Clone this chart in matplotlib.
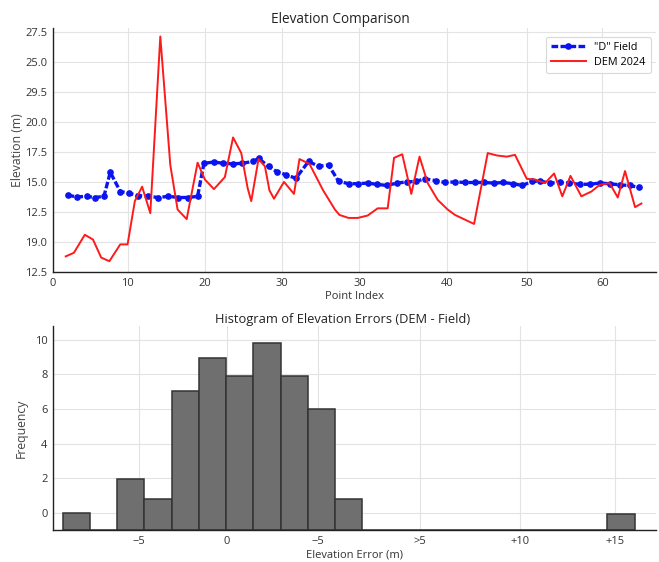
import matplotlib
matplotlib.use("Agg")
import matplotlib.pyplot as plt
import numpy as np

plt.rcParams['font.family'] = ['Open Sans', 'DejaVu Sans']

# --- Elevation profile: field survey vs DEM (point index, elevation in m) ---
field_idx = [1.6, 2.6, 3.7, 4.6, 5.6, 6.3, 7.4, 8.4, 9.4, 10.5,
             11.6, 12.7, 13.8, 14.9, 15.9, 16.6, 17.7, 18.7, 19.8, 20.8,
             22.0, 22.6, 23.7, 24.6, 25.6, 26.7, 28.1, 29.2, 30.3, 31.4,
             32.5, 33.5, 34.6, 35.6, 36.7, 37.8, 38.9, 39.9, 40.9, 42.1,
             43.1, 44.2, 45.3, 46.4, 47.4, 48.5, 49.5, 50.6, 51.6, 52.7,
             53.6, 54.7, 55.7, 56.7, 57.9, 59.0, 60.1, 61.2, 62.3, 63.4,
             64.4]
field_elev = [13.9, 13.75, 13.8, 13.7, 13.8, 15.8, 14.2, 14.05, 13.85, 13.8,
              13.7, 13.8, 13.7, 13.7, 13.8, 16.55, 16.65, 16.55, 16.5, 16.55,
              16.7, 16.95, 16.3, 15.85, 15.6, 15.3, 16.7, 16.3, 16.4, 15.05,
              14.85, 14.85, 14.9, 14.8, 14.7, 14.9, 15.0, 15.05, 15.25, 15.1,
              14.95, 15.0, 14.95, 14.95, 14.95, 14.9, 14.95, 14.85, 14.7, 15.05,
              15.05, 14.9, 14.95, 14.9, 14.8, 14.8, 14.9, 14.85, 14.75, 14.7,
              14.55]

dem_idx = [1.4, 2.3, 3.5, 4.4, 5.3, 6.2, 7.4, 8.2, 9.0, 9.8,
           10.7, 11.8, 12.9, 13.7, 14.7, 15.9, 16.7, 17.7, 18.9, 19.8,
           20.7, 21.4, 21.8, 22.6, 23.3, 23.8, 24.3, 25.4, 26.5, 27.1,
           28.2, 29.7, 31.0, 31.5, 32.5, 33.5, 34.6, 35.7, 36.8, 37.5,
           38.4, 39.4, 40.3, 41.2, 42.3, 43.4, 44.2, 46.3, 47.8, 48.8,
           49.9, 50.8, 52.1, 53.0, 54.1, 55.1, 56.0, 56.9, 58.1, 59.2,
           60.1, 61.2, 62.1, 62.9, 64.0, 64.7]
dem_elev = [8.8, 9.1, 10.6, 10.2, 8.7, 8.4, 9.8, 9.8, 13.4, 14.6,
            12.4, 27.1, 16.4, 12.7, 11.9, 16.6, 15.2, 14.4, 15.4, 18.7,
            17.4, 14.5, 13.4, 16.9, 16.3, 14.3, 13.6, 15.0, 14.0, 16.9,
            16.5, 14.3, 12.7, 12.25, 12.0, 12.0, 12.2, 12.8, 12.8, 17.0,
            17.3, 14.0, 17.1, 14.9, 13.5, 12.7, 12.25, 11.5, 17.4, 17.2,
            17.1, 17.25, 15.25, 15.2, 14.9, 15.7, 13.8, 15.5, 13.8, 14.2,
            14.75, 14.9, 13.7, 15.9, 12.9, 13.2]

profile_xticks = [0, 8.2, 16.7, 25.2, 33.7, 43.3, 52.1, 60.4]
profile_xlabels = ['0', '10', '20', '30', '30', '40', '50', '60']
profile_yticks = [7.5, 10.0, 12.5, 15.0, 17.5, 20.0, 22.5, 25.0, 27.5]
profile_ylabels = ['12.5', '19.0', '12.5', '15.0', '17.5', '20.0', '29.5', '25.0', '27.5']

# --- Error histogram (DEM - Field) ---
hist_edges = np.linspace(-9.2, 22.8, 22)
hist_counts = [1.0, 0, 2.95, 1.77, 8.06, 9.94, 8.9, 10.84, 8.9, 7.0,
               1.77, 0, 0, 0, 0, 0, 0, 0, 0, 0, 0.94]
hist_xticks = [-4.95, 0, 5.1, 10.8, 16.4, 21.7]
hist_xlabels = ['\u22125', '0', '\u22125', '>5', '+10', '+15']
hist_yticks = [1, 3, 5, 7, 9, 11]
hist_ylabels = ['0', '2', '4', '6', '8', '10']

fig = plt.figure(figsize=(6.59, 5.62), dpi=100)
ax1 = fig.add_axes([0.0804, 0.516, 0.915, 0.434])
ax2 = fig.add_axes([0.0804, 0.0569, 0.915, 0.363])

grid_kw = dict(color='#e3e3e6', linewidth=0.8)
tick_color = '#333333'

def style(ax):
    ax.set_facecolor('white')
    ax.grid(True, **grid_kw)
    ax.set_axisbelow(True)
    for s in ('top', 'right'):
        ax.spines[s].set_visible(False)
    for s in ('left', 'bottom'):
        ax.spines[s].set_color('#222222')
        ax.spines[s].set_linewidth(1.0)
    ax.tick_params(length=0, labelsize=8, colors=tick_color, pad=4)

# Top: elevation comparison
style(ax1)
ax1.plot(field_idx, field_elev, color='#0a14f0', linestyle=(0, (2.0, 0.7)),
         linewidth=2.4, marker='o', markersize=3.8, label='"D" Field')
ax1.plot(dem_idx, dem_elev, color='#ff1a1a', linewidth=1.4, label='DEM 2024')
ax1.set_xlim(0, 66.3)
ax1.set_ylim(7.5, 27.8)
ax1.set_xticks(profile_xticks)
ax1.set_xticklabels(profile_xlabels)
ax1.set_yticks(profile_yticks)
ax1.set_yticklabels(profile_ylabels)
ax1.set_title('Elevation Comparison', fontsize=9.8, color='#222222', x=0.476, pad=4)
ax1.set_xlabel('Point Index', fontsize=8, color='#333333', labelpad=2)
ax1.set_ylabel('Elevation (m)', fontsize=8.8, color='#444444', labelpad=1)
leg = ax1.legend(loc='upper right', bbox_to_anchor=(1.0, 0.985), fontsize=7.8,
                 frameon=True, fancybox=True, borderpad=0.45, handlelength=3.2,
                 labelspacing=0.35)
leg.get_frame().set_edgecolor('#d0d0d0')
leg.get_frame().set_linewidth(0.8)

# Bottom: histogram of errors
style(ax2)
widths = np.diff(hist_edges)
ax2.bar(hist_edges[:-1], hist_counts, width=widths, align='edge',
        color='#6f6f6f', edgecolor='#333333', linewidth=1.1)
ax2.set_xlim(-9.75, 24.0)
ax2.set_ylim(0, 11.8)
ax2.set_xticks(hist_xticks)
ax2.set_xticklabels(hist_xlabels)
ax2.set_yticks(hist_yticks)
ax2.set_yticklabels(hist_ylabels)
ax2.set_title('Histogram of Elevation Errors (DEM - Field)', fontsize=9.3,
              color='#222222', x=0.481, pad=-2)
ax2.set_xlabel('Elevation Error (m)', fontsize=8, color='#333333', labelpad=2)
ax2.set_ylabel('Frequency', fontsize=8.8, color='#444444', labelpad=5)

fig.savefig('out.png', dpi=100, facecolor='white')
